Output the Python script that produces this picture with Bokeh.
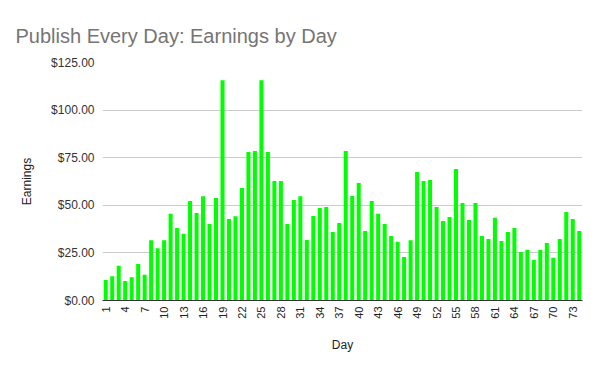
from bokeh.plotting import figure
from bokeh.models import Range1d, FixedTicker, NumeralTickFormatter, ColumnDataSource
from bokeh.embed import file_html
from bokeh.resources import INLINE
import math

days = list(range(1, 75))
earnings = [
    10.8, 12.8, 18.2, 10.3, 12.2, 19.2, 13.5, 31.6, 27.4, 31.6,
    45.5, 38.1, 35.0, 52.3, 46.0, 54.7, 40.2, 53.8, 115.7, 42.8,
    44.2, 59.1, 78.0, 78.5, 115.7, 78.0, 62.8, 62.8, 40.2, 52.8,
    54.7, 31.8, 44.4, 48.6, 49.1, 36.0, 40.7, 78.5, 54.9, 61.7,
    36.5, 52.3, 45.5, 40.2, 33.9, 30.8, 22.9, 31.6, 67.5, 62.8,
    63.3, 49.1, 41.8, 43.9, 69.1, 51.2, 42.3, 51.2, 33.9, 32.3,
    43.4, 31.3, 36.0, 38.1, 25.5, 26.6, 21.3, 26.6, 30.2, 22.4,
    32.3, 46.5, 42.8, 36.5,
]
x_ticks = list(range(1, 75, 3))
y_ticks = [0, 25, 50, 75, 100, 125]

FONT = "Liberation Sans"

p = figure(width=592, height=363, output_backend="svg", toolbar_location=None,
           x_range=Range1d(0.5, 74.5), y_range=Range1d(0, 125),
           min_border_left=102, min_border_right=10, min_border_top=62,
           min_border_bottom=63, title="Publish Every Day: Earnings by Day")
p.outline_line_color = None
p.background_fill_color = "white"

p.title.text_font = FONT
p.title.text_font_size = "20px"
p.title.text_font_style = "normal"
p.title.text_color = "#757575"
p.title.offset = -87
p.title.standoff = 32

src = ColumnDataSource(dict(day=days, earn=earnings))
p.vbar(x="day", top="earn", width=0.62, source=src, fill_color="#00ff00",
       line_color=None)

p.xaxis.ticker = FixedTicker(ticks=x_ticks)
p.xaxis.major_label_orientation = math.pi / 2
p.xaxis.major_tick_line_color = None
p.xaxis.minor_tick_line_color = None
p.xaxis.axis_line_color = "#333333"
p.xaxis.major_label_text_font = FONT
p.xaxis.major_label_text_font_size = "11px"
p.xaxis.major_label_text_color = "#222222"
p.xaxis.major_label_standoff = 0
p.xaxis.axis_label = "Day"
p.xaxis.axis_label_text_font = FONT
p.xaxis.axis_label_text_font_size = "12px"
p.xaxis.axis_label_text_font_style = "normal"
p.xaxis.axis_label_text_color = "#222222"
p.xaxis.axis_label_standoff = 16

p.yaxis.ticker = FixedTicker(ticks=y_ticks)
p.yaxis.formatter = NumeralTickFormatter(format="$0.00")
p.yaxis.axis_line_color = None
p.yaxis.major_tick_line_color = None
p.yaxis.minor_tick_line_color = None
p.yaxis.major_label_text_font = FONT
p.yaxis.major_label_text_font_size = "12px"
p.yaxis.major_label_text_color = "#333333"
p.yaxis.major_label_standoff = 2
p.yaxis.axis_label = "Earnings"
p.yaxis.axis_label_text_font = FONT
p.yaxis.axis_label_text_font_size = "12px"
p.yaxis.axis_label_text_font_style = "normal"
p.yaxis.axis_label_text_color = "#222222"
p.yaxis.axis_label_standoff = 14

p.xgrid.grid_line_color = None
p.ygrid.grid_line_color = "#cccccc"
p.ygrid.ticker = FixedTicker(ticks=y_ticks)

open("out.html", "w").write(file_html(p, INLINE))
